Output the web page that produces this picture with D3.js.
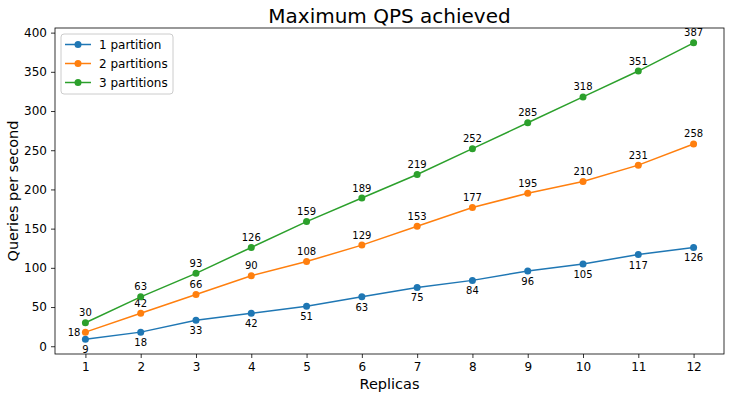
<!DOCTYPE html>
<html lang="en">
<head>
<meta charset="utf-8">
<title>Maximum QPS achieved</title>
<script src="https://d3js.org/d3.v7.js"></script>
<style>
  body { margin: 0; background: #fff; }
  text { font-family: "DejaVu Sans", sans-serif; fill: #000; }
</style>
</head>
<body>
<script>
var replicas = [1, 2, 3, 4, 5, 6, 7, 8, 9, 10, 11, 12];
var onePartition = [9, 18, 33, 42, 51, 63, 75, 84, 96, 105, 117, 126];
var twoPartitions = [18, 42, 66, 90, 108, 129, 153, 177, 195, 210, 231, 258];
var threePartitions = [30, 63, 93, 126, 159, 189, 219, 252, 285, 318, 351, 387];
var seriesNames = ["1 partition", "2 partitions", "3 partitions"];
var yTicks = [0, 50, 100, 150, 200, 250, 300, 350, 400];

var w = 735, h = 399;
var pLeft = 55, pRight = 724, pTop = 28, pBottom = 354;
var colors = ["#1f77b4", "#ff7f0e", "#2ca02c"];
var allSeries = [onePartition, twoPartitions, threePartitions];

var xScale = d3.scaleLinear().domain([0.45, 12.55]).range([pLeft, pRight]);
var yScale = d3.scaleLinear().domain([-9.9, 405.9]).range([pBottom, pTop]);

var svg = d3.select("body").append("svg")
  .attr("width", w).attr("height", h);

// axes
var xAxis = d3.axisBottom(xScale).tickValues(replicas).tickFormat(d3.format("d")).tickSize(4).tickPadding(4);
var yAxis = d3.axisLeft(yScale).tickValues(yTicks).tickSize(4).tickPadding(4);

var gx = svg.append("g").attr("transform", "translate(0," + pBottom + ")").call(xAxis);
var gy = svg.append("g").attr("transform", "translate(" + pLeft + ",0)").call(yAxis);
[gx, gy].forEach(function (g) {
  g.select(".domain").remove();
  g.selectAll("text").style("font-size", "12px").style("font-family", "DejaVu Sans").attr("fill", "#000");
  g.selectAll("line").attr("stroke", "#000").attr("stroke-width", 0.8);
});

// frame
svg.append("rect")
  .attr("x", pLeft).attr("y", pTop)
  .attr("width", pRight - pLeft).attr("height", pBottom - pTop)
  .attr("fill", "none").attr("stroke", "#000").attr("stroke-width", 0.8);

var line = d3.line()
  .x(function (d, i) { return xScale(replicas[i]); })
  .y(function (d) { return yScale(d); });

allSeries.forEach(function (vals, s) {
  svg.append("path")
    .datum(vals)
    .attr("d", line)
    .attr("fill", "none")
    .attr("stroke", colors[s])
    .attr("stroke-width", 1.5);

  svg.selectAll(".pt" + s)
    .data(vals)
    .enter().append("circle")
    .attr("cx", function (d, i) { return xScale(replicas[i]); })
    .attr("cy", function (d) { return yScale(d); })
    .attr("r", 3.5)
    .attr("fill", colors[s]);

  svg.selectAll(".lb" + s)
    .data(vals)
    .enter().append("text")
    .attr("x", function (d, i) {
      if (s === 1 && i === 0) return xScale(replicas[i]) - 5;
      return xScale(replicas[i]);
    })
    .attr("y", function (d, i) {
      if (s === 0) return yScale(d) + 14;
      if (s === 1 && i === 0) return yScale(d) + 4;
      return yScale(d) - 6.5;
    })
    .attr("text-anchor", function (d, i) { return (s === 1 && i === 0) ? "end" : "middle"; })
    .style("font-size", "10px")
    .text(function (d) { return d; });
});

// title and axis labels
svg.append("text")
  .attr("x", (pLeft + pRight) / 2).attr("y", 23)
  .attr("text-anchor", "middle")
  .style("font-size", "20px")
  .text("Maximum QPS achieved");

svg.append("text")
  .attr("x", (pLeft + pRight) / 2).attr("y", 389)
  .attr("text-anchor", "middle")
  .style("font-size", "14.5px")
  .text("Replicas");

svg.append("text")
  .attr("transform", "translate(18," + ((pTop + pBottom) / 2) + ") rotate(-90)")
  .attr("text-anchor", "middle")
  .style("font-size", "14.5px")
  .text("Queries per second");

// legend
var legend = svg.append("g");
legend.append("rect")
  .attr("x", 61).attr("y", 34).attr("width", 112).attr("height", 60)
  .attr("rx", 3)
  .attr("fill", "#fff").attr("fill-opacity", 0.8)
  .attr("stroke", "#ccc").attr("stroke-width", 1);

seriesNames.forEach(function (name, s) {
  var yy = 44.5 + s * 19;
  legend.append("line")
    .attr("x1", 65).attr("x2", 91).attr("y1", yy).attr("y2", yy)
    .attr("stroke", colors[s]).attr("stroke-width", 1.5);
  legend.append("circle")
    .attr("cx", 78).attr("cy", yy).attr("r", 3.5).attr("fill", colors[s]);
  legend.append("text")
    .attr("x", 99).attr("y", yy + 4.5)
    .style("font-size", "12px")
    .text(name);
});
</script>
</body>
</html>
